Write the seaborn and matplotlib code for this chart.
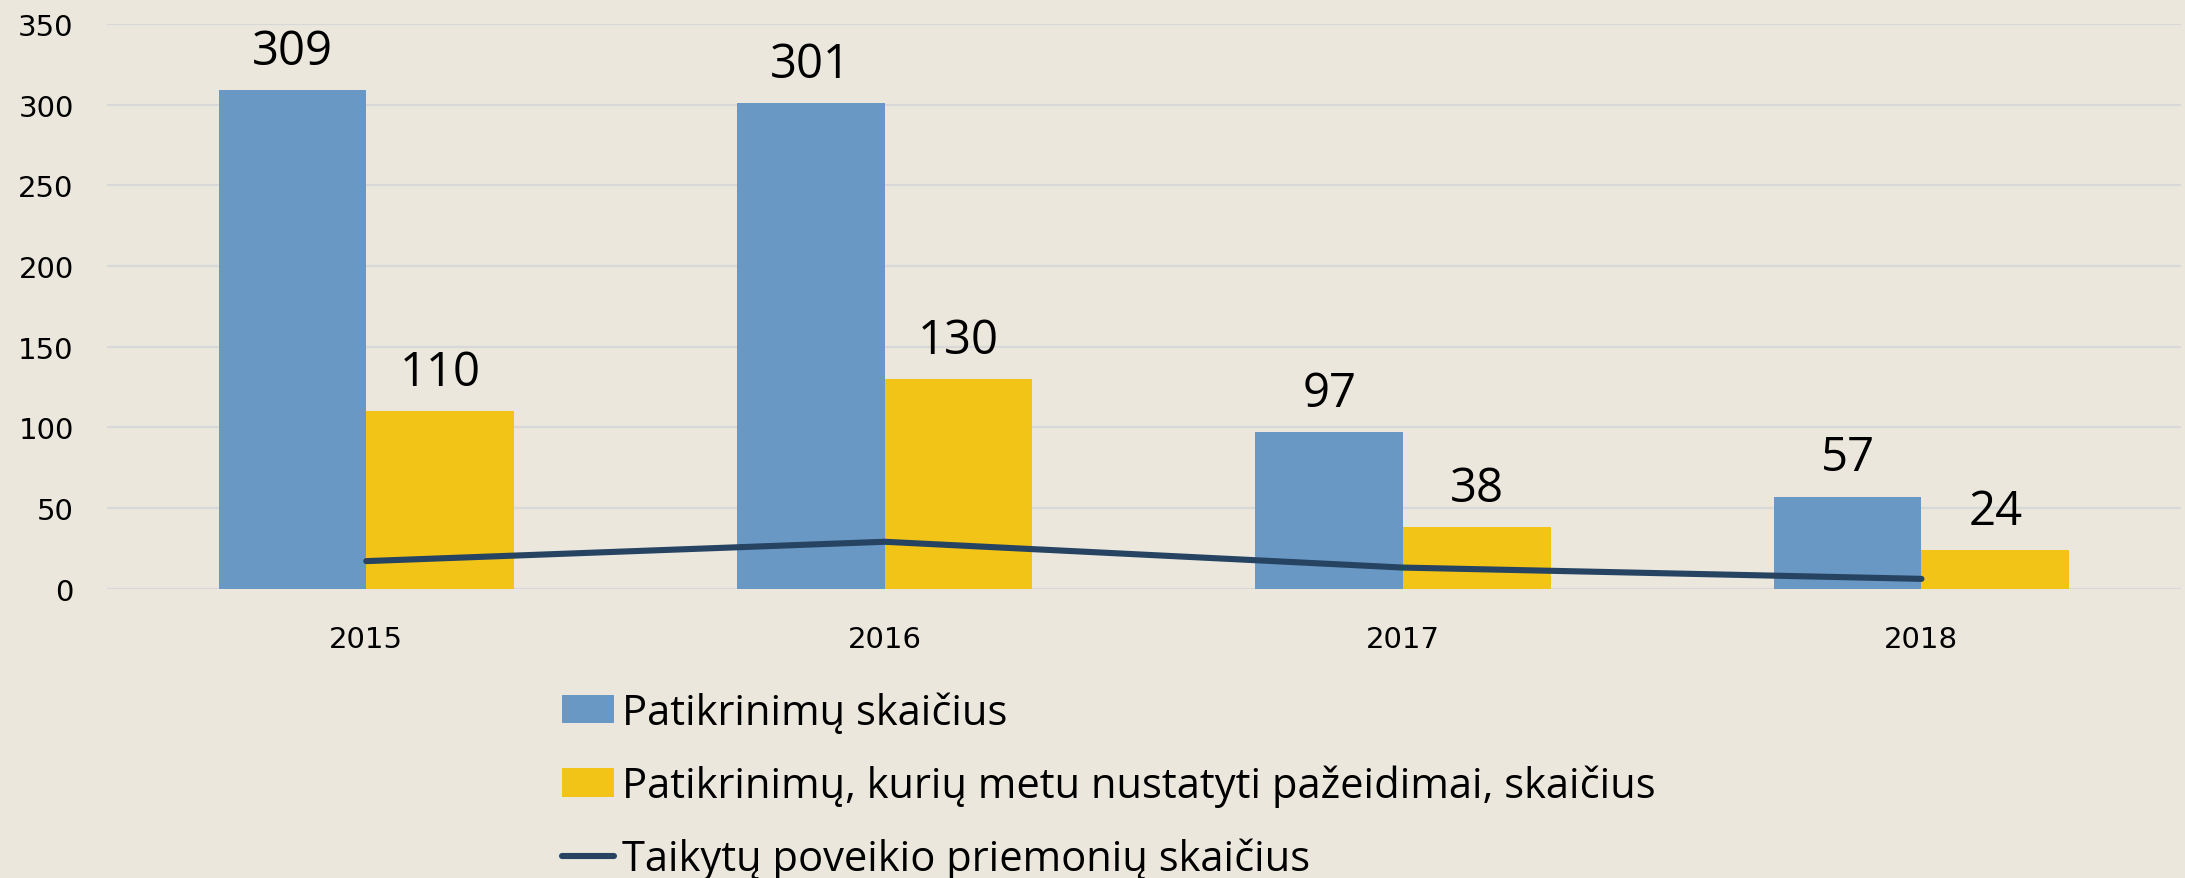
import numpy as np
import pandas as pd
import matplotlib.pyplot as plt
import seaborn as sns

# data
years = ['2015', '2016', '2017', '2018']
patikrinimai = [309, 301, 97, 57]
su_pazeidimais = [110, 130, 38, 24]
priemones = [17, 29, 13, 6]   # line series, no labels in source
y_ticks = [0, 50, 100, 150, 200, 250, 300, 350]

lbl_bar1 = 'Patikrinimų skaičius'
lbl_bar2 = 'Patikrinimų, kurių metu nustatyti pažeidimai, skaičius'
lbl_line = 'Taikytų poveikio priemonių skaičius'

BG = '#EBE7DD'
BLUE = '#6A98C4'
YELLOW = '#F2C418'
NAVY = '#264461'

sns.set_style('white')
plt.rcParams['font.family'] = ['DejaVu Sans']
plt.rcParams['text.color'] = 'black'

df = pd.DataFrame({
    'year': years * 2,
    'value': patikrinimai + su_pazeidimais,
    'series': [lbl_bar1] * 4 + [lbl_bar2] * 4,
})

fig = plt.figure(figsize=(21.85, 8.79), dpi=100, facecolor=BG)
ax = fig.add_axes([0.049, 0.3293, 0.949, 0.6423])
ax.set_facecolor(BG)

sns.barplot(data=df, x='year', y='value', hue='series', order=years,
            palette=[BLUE, YELLOW], width=0.57, saturation=1, linewidth=0,
            ax=ax)
sns.lineplot(x=np.arange(len(years)), y=priemones, color=NAVY, lw=4.4,
             label=lbl_line, ax=ax, solid_capstyle='round')

for cont in ax.containers:
    ax.bar_label(cont, padding=11, fontsize=34, family='Open Sans', color='black')

ax.set_ylim(0, 350)
ax.set_xlim(-0.5, 3.5)
ax.set_yticks(y_ticks)
ax.yaxis.grid(True, color='#D8D8D8', lw=1.6)
ax.set_axisbelow(True)
for s in ax.spines.values():
    s.set_visible(False)
ax.tick_params(axis='y', length=0, pad=24, labelsize=21, labelcolor='black')
ax.tick_params(axis='x', length=0, pad=26, labelsize=21, labelcolor='black')
ax.set_xlabel('')
ax.set_ylabel('')

handles, labels = ax.get_legend_handles_labels()
ax.get_legend().remove()
leg = fig.legend(handles, labels, loc='upper left', bbox_to_anchor=(0.257, 0.212),
                 frameon=False, prop={'family': 'Open Sans', 'size': 30},
                 handlelength=1.25, handleheight=0.67, handletextpad=0.2,
                 labelspacing=0.74, borderpad=0, borderaxespad=0)
for t in leg.get_texts():
    t.set_color('black')

fig.savefig('out.png', dpi=100, facecolor=BG)
